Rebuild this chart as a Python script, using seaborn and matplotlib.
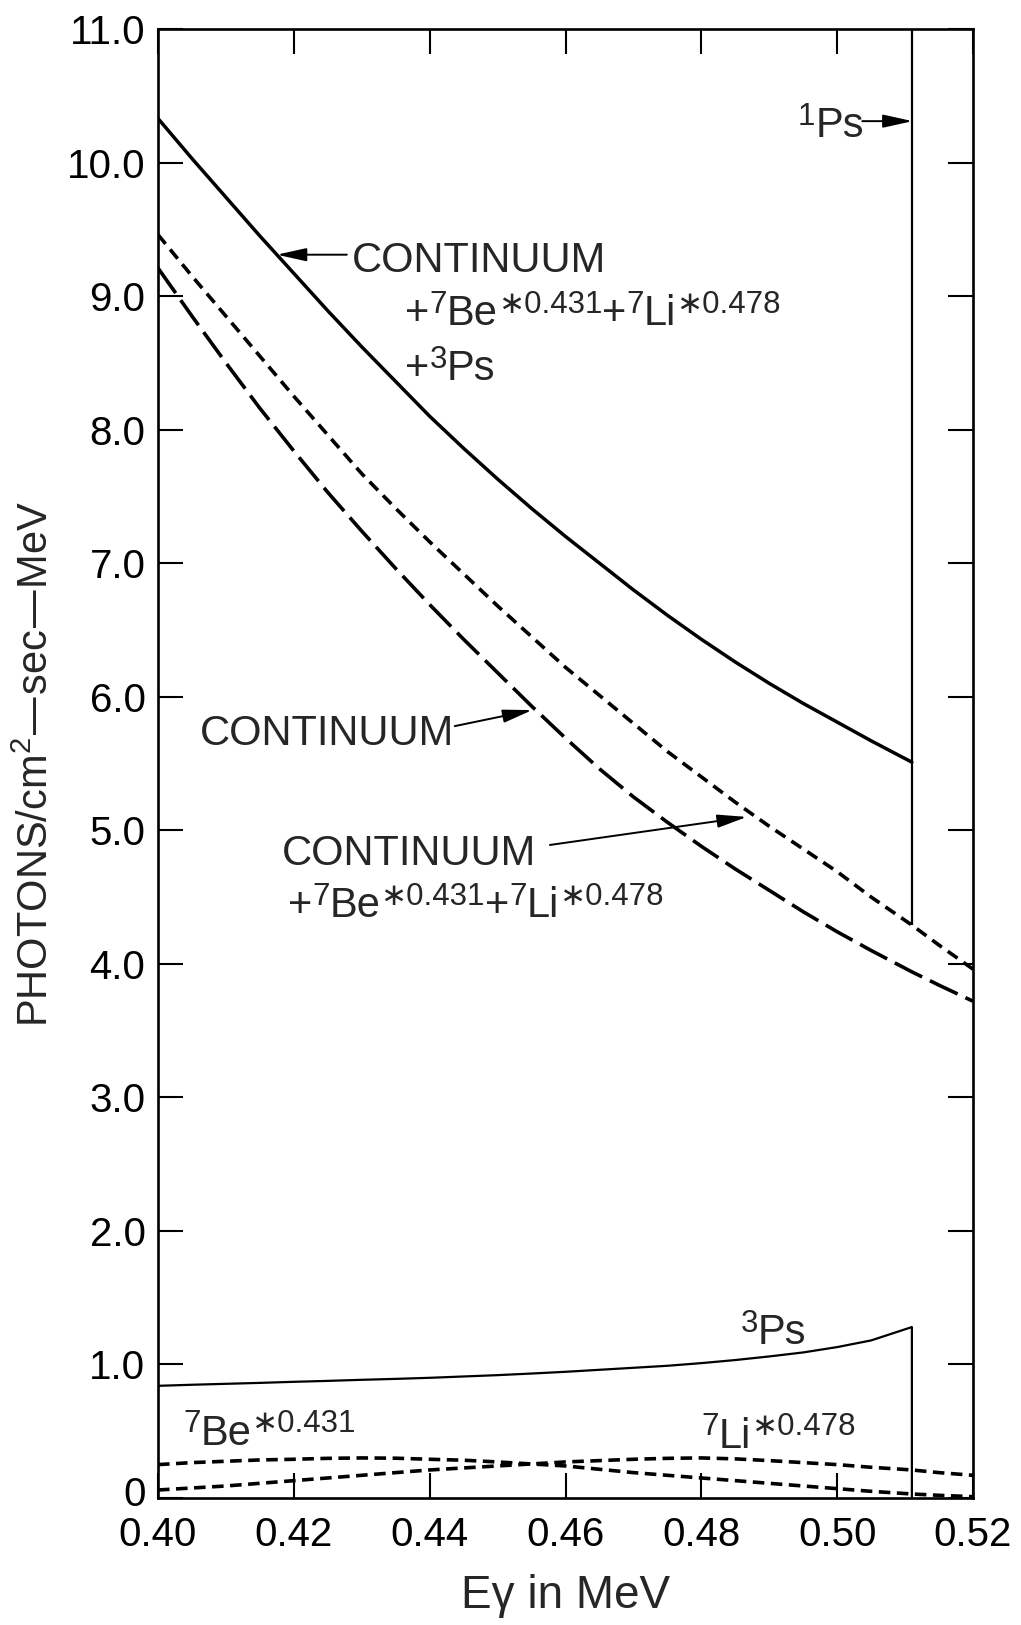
import matplotlib
matplotlib.use("Agg")
import matplotlib.pyplot as plt
import matplotlib.transforms as mtransforms
import seaborn as sns

# Energy grid (MeV)
energy = [0.400, 0.405, 0.410, 0.415, 0.420, 0.425, 0.430, 0.435, 0.440, 0.445,
          0.450, 0.455, 0.460, 0.465, 0.470, 0.475, 0.480, 0.485, 0.490, 0.495,
          0.500, 0.505, 0.511, 0.515, 0.520]

# Continuum + 7Be*0.431 + 7Li*0.478 + 3Ps (solid, stops at 0.511)
total = [10.33, 10.03, 9.74, 9.45, 9.17, 8.89, 8.62, 8.36, 8.10, 7.86,
         7.63, 7.41, 7.20, 7.00, 6.80, 6.61, 6.43, 6.26, 6.10, 5.95,
         5.81, 5.67, 5.51]
# Continuum + 7Be*0.431 + 7Li*0.478 (short dashes)
continuum_be_li = [9.46, 9.15, 8.85, 8.55, 8.25, 7.96, 7.67, 7.41, 7.16, 6.92,
                   6.68, 6.45, 6.22, 6.01, 5.80, 5.59, 5.40, 5.21, 5.03, 4.86,
                   4.69, 4.50, 4.29, 4.14, 3.96]
# Continuum only (long dashes)
continuum = [9.21, 8.85, 8.50, 8.16, 7.84, 7.53, 7.24, 6.96, 6.69, 6.43,
             6.18, 5.93, 5.69, 5.46, 5.25, 5.06, 4.88, 4.71, 4.55, 4.39,
             4.24, 4.10, 3.94, 3.84, 3.72]
# Line components
be_0431 = [0.25, 0.265, 0.275, 0.285, 0.29, 0.297, 0.30, 0.298, 0.29, 0.283,
           0.27, 0.255, 0.24, 0.215, 0.19, 0.17, 0.15, 0.13, 0.11, 0.09,
           0.07, 0.05, 0.03, 0.02, 0.01]
li_0478 = [0.06, 0.075, 0.09, 0.11, 0.13, 0.15, 0.17, 0.19, 0.21, 0.225,
           0.24, 0.255, 0.27, 0.28, 0.29, 0.297, 0.30, 0.293, 0.28, 0.265,
           0.25, 0.23, 0.21, 0.19, 0.17]
# 3Ps continuum, drops to zero at 0.511
ps3 = [0.84, 0.848, 0.855, 0.862, 0.87, 0.877, 0.885, 0.892, 0.90, 0.91,
       0.92, 0.932, 0.945, 0.96, 0.975, 0.99, 1.01, 1.033, 1.06, 1.09,
       1.13, 1.18, 1.28, 0.0]

PS1_ENERGY = 0.511
YMAX = 11.0

xticks = [0.40, 0.42, 0.44, 0.46, 0.48, 0.50, 0.52]
xtick_labels = ["0.40", "0.42", "0.44", "0.46", "0.48", "0.50", "0.52"]
yticks = [0, 1, 2, 3, 4, 5, 6, 7, 8, 9, 10, 11]
ytick_labels = ["0", "1.0", "2.0", "3.0", "4.0", "5.0", "6.0", "7.0", "8.0", "9.0", "10.0", "11.0"]

sns.set_style("ticks")
plt.rcParams["font.family"] = ["Liberation Sans", "DejaVu Sans"]
plt.rcParams["mathtext.default"] = "regular"

W, H = 1021, 1625
fig = plt.figure(figsize=(W / 100, H / 100), dpi=100)
ax = fig.add_axes([158 / W, 1 - 1498 / H, (973 - 158) / W, (1498 - 29) / H])

i_ps = energy.index(PS1_ENERGY)
energy_3ps = energy[:i_ps + 1] + [PS1_ENERGY]

common = dict(ax=ax, color="black", estimator=None, sort=False)
sns.lineplot(x=energy[:len(total)], y=total, lw=2.5, **common)
sns.lineplot(x=energy, y=continuum_be_li, lw=2.6, linestyle=(0, (3.3, 2.0)), **common)
sns.lineplot(x=energy, y=continuum, lw=2.6, linestyle=(0, (8.5, 2.4)), **common)
sns.lineplot(x=energy_3ps, y=ps3, lw=1.6, **common)
sns.lineplot(x=energy, y=be_0431, lw=2.6, linestyle=(0, (3.2, 1.8)), **common)
sns.lineplot(x=energy, y=li_0478, lw=2.6, linestyle=(0, (3.2, 1.8)), **common)
ax.vlines(PS1_ENERGY, continuum_be_li[i_ps], YMAX, color="black", lw=1.6)

ax.set_xlim(0.40, 0.52)
ax.set_ylim(0, YMAX)
ax.set_xticks(xticks, xtick_labels)
ax.set_yticks(yticks, ytick_labels)
ax.tick_params(direction="in", length=18, width=1.5, top=True, right=True,
               labelsize=29, pad=9, colors="black")
ax.tick_params(axis="x", pad=13)
for sp in ax.spines.values():
    sp.set_linewidth(1.9)
    sp.set_color("black")

# lift the "0" label a little so it clears the "0.40" below it
zero_lbl = ax.yaxis.get_major_ticks()[0].label1
zero_lbl.set_transform(zero_lbl.get_transform()
                       + mtransforms.ScaledTranslation(0, 7 / 100, fig.dpi_scale_trans))

ax.set_xlabel("E\u03b3 in MeV", fontsize=33, labelpad=14)
ax.set_ylabel("PHOTONS/cm$^2$\u2014sec\u2014MeV", fontsize=30, labelpad=7)

MAIN, SUP, RISE = 30, 22.5, 9


def rich(x, y, parts):
    """Place a run of normal/superscript pieces starting at data (x, y) baseline."""
    prev = None
    for s, sup in parts:
        fs = SUP if sup else MAIN
        dy = RISE if sup else 0
        if prev is None:
            prev = ax.annotate(s, xy=(x, y), xycoords="data", xytext=(0, dy),
                               textcoords="offset points", fontsize=fs,
                               va="baseline", ha="left")
        else:
            prev = ax.annotate(s, xy=(1, y), xycoords=(prev, "data"), xytext=(0, dy),
                               textcoords="offset points", fontsize=fs,
                               va="baseline", ha="left")


def arrow(tail, tip):
    ax.annotate("", xy=tip, xytext=tail,
                arrowprops=dict(arrowstyle="-|>,head_length=0.9,head_width=0.2",
                                mutation_scale=20, lw=1.4, color="black",
                                shrinkA=0, shrinkB=0))


be_li = [("+", 0), ("7", 1), ("Be", 0), ("\u22170.431", 1),
         ("+", 0), ("7", 1), ("Li", 0), ("\u22170.478", 1)]

# upper label (total curve)
ax.text(0.4286, 9.18, "CONTINUUM", fontsize=MAIN, va="baseline")
arrow((0.4278, 9.31), (0.4175, 9.31))
rich(0.4364, 8.78, be_li)
rich(0.4364, 8.37, [("+", 0), ("3", 1), ("Ps", 0)])

# continuum only
ax.text(0.4062, 5.64, "CONTINUUM", fontsize=MAIN, va="baseline")
arrow((0.4437, 5.78), (0.4551, 5.90))

# continuum + lines
ax.text(0.4183, 4.74, "CONTINUUM", fontsize=MAIN, va="baseline")
arrow((0.4577, 4.89), (0.4867, 5.10))
rich(0.4191, 4.35, be_li)

# positronium
rich(0.4942, 10.19, [("1", 1), ("Ps", 0)])
arrow((0.5037, 10.31), (0.5111, 10.31))
rich(0.4858, 1.15, [("3", 1), ("Ps", 0)])

# line components
rich(0.4037, 0.40, [("7", 1), ("Be", 0), ("\u22170.431", 1)])
rich(0.4800, 0.375, [("7", 1), ("Li", 0), ("\u22170.478", 1)])

fig.savefig("out.png", dpi=100)
